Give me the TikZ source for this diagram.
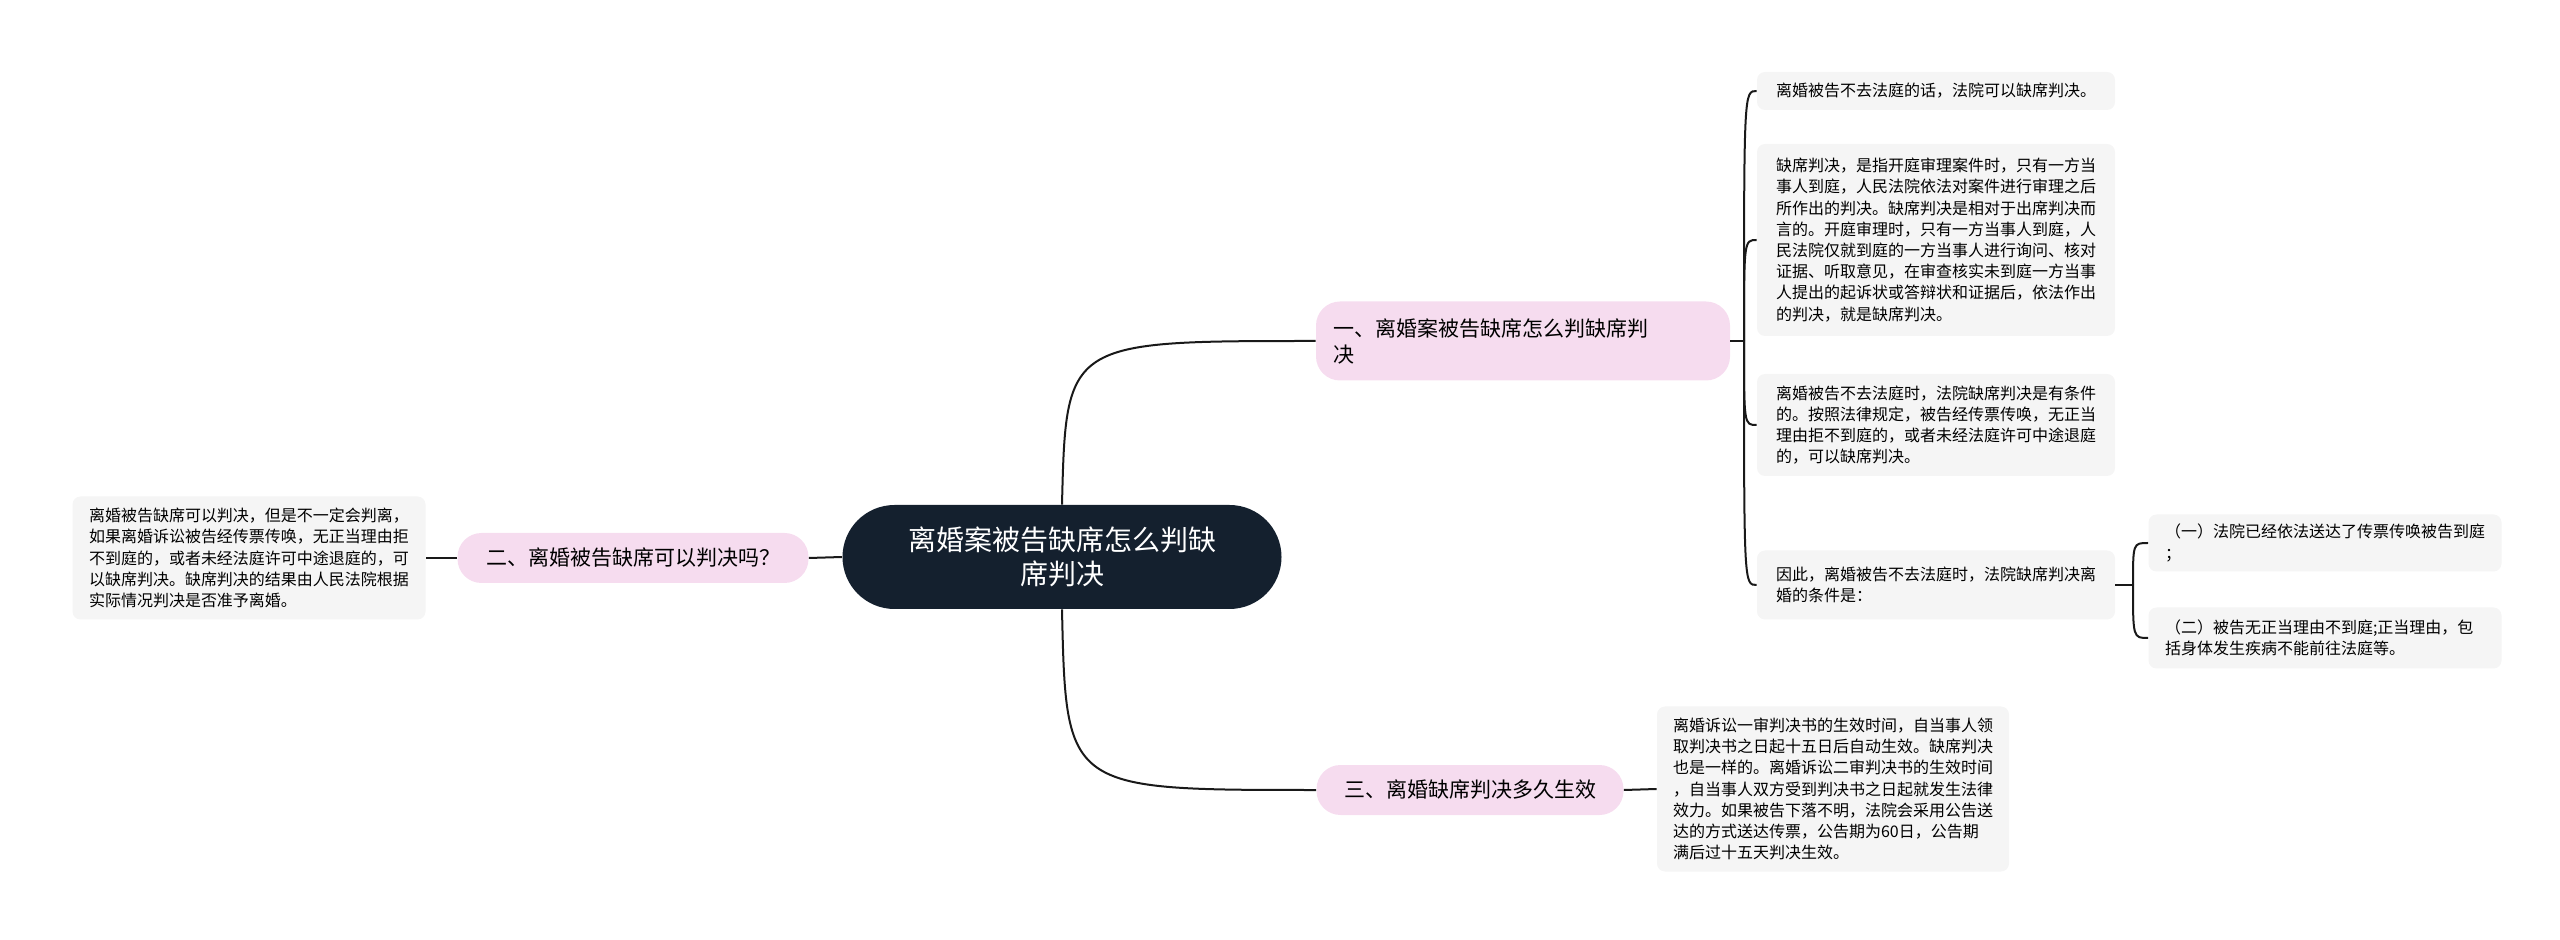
\documentclass[tikz,border=0pt]{standalone}
\usepackage{fontspec}
\setmainfont{Noto Sans CJK SC}
\tikzset{
  rootbox/.style={fill=black!10!blue!15!black!85, fill=rootcol, text=white, rounded corners=26pt, minimum width=219.5pt, minimum height=52pt, align=center, font=\fontsize{14pt}{17pt}\selectfont},
  topicbox/.style={fill=pinkcol, rounded corners=12pt, inner sep=0pt, align=left, font=\fontsize{10.5pt}{13pt}\selectfont},
  leafbox/.style={fill=leafcol, rounded corners=4pt, inner sep=0pt, align=left, text width=160pt, font=\fontsize{8pt}{10.6pt}\selectfont},
  link/.style={line width=1pt, black!90}
}
\definecolor{rootcol}{HTML}{14202E}
\definecolor{pinkcol}{HTML}{F6DCEF}
\definecolor{leafcol}{HTML}{F5F5F5}
\begin{document}
\begin{tikzpicture}[x=0.5pt, y=-0.5pt]
  \useasboundingbox (0,0) rectangle (2560,940);
  % centre
  \node[rootbox] (root) at (1062,557) {离婚案被告缺席怎么判缺\\席判决};
  % topics
  \node[topicbox, minimum width=207pt, minimum height=39.5pt, text width=190pt] (b1) at (1523,341) {一、离婚案被告缺席怎么判缺席判\\决};
  \node[topicbox, minimum width=175.5pt, minimum height=25pt, align=center] (b2) at (633,558) {二、离婚被告缺席可以判决吗？};
  \node[topicbox, minimum width=153.5pt, minimum height=25pt, align=center] (b3) at (1470,790) {三、离婚缺席判决多久生效};
  % leaves of topic one
  \node[leafbox, minimum width=179pt, minimum height=19pt] (l1) at (1936,91) {离婚被告不去法庭的话，法院可以缺席判决。};
  \node[leafbox, minimum width=179pt, minimum height=96pt] (l2) at (1936,240) {缺席判决，是指开庭审理案件时，只有一方当\\事人到庭，人民法院依法对案件进行审理之后\\所作出的判决。缺席判决是相对于出席判决而\\言的。开庭审理时，只有一方当事人到庭，人\\民法院仅就到庭的一方当事人进行询问、核对\\证据、听取意见，在审查核实未到庭一方当事\\人提出的起诉状或答辩状和证据后，依法作出\\的判决，就是缺席判决。};
  \node[leafbox, minimum width=179pt, minimum height=51pt] (l3) at (1936,425) {离婚被告不去法庭时，法院缺席判决是有条件\\的。按照法律规定，被告经传票传唤，无正当\\理由拒不到庭的，或者未经法庭许可中途退庭\\的，可以缺席判决。};
  \node[leafbox, minimum width=179pt, minimum height=34.5pt] (l4) at (1936,585) {因此，离婚被告不去法庭时，法院缺席判决离\\婚的条件是：};
  \node[leafbox, minimum width=176.5pt, minimum height=28.5pt] (s1) at (2325,543) {（一）法院已经依法送达了传票传唤被告到庭\\；};
  \node[leafbox, minimum width=176.5pt, minimum height=30.5pt] (s2) at (2325,638) {（二）被告无正当理由不到庭;正当理由，包\\括身体发生疾病不能前往法庭等。};
  % leaf of topic two
  \node[leafbox, minimum width=176.5pt, minimum height=61.5pt] (l5) at (249,558) {离婚被告缺席可以判决，但是不一定会判离，\\如果离婚诉讼被告经传票传唤，无正当理由拒\\不到庭的，或者未经法庭许可中途退庭的，可\\以缺席判决。缺席判决的结果由人民法院根据\\实际情况判决是否准予离婚。};
  % leaf of topic three
  \node[leafbox, minimum width=176pt, minimum height=82.5pt] (l6) at (1833,789) {离婚诉讼一审判决书的生效时间，自当事人领\\取判决书之日起十五日后自动生效。缺席判决\\也是一样的。离婚诉讼二审判决书的生效时间\\，自当事人双方受到判决书之日起就发生法律\\效力。如果被告下落不明，法院会采用公告送\\达的方式送达传票，公告期为60日，公告期\\满后过十五天判决生效。};
  % links
  \draw[link] (root.north) ++(0,0) .. controls (1066,341) .. (b1.west);
  \draw[link] (root.south) .. controls (1066,790) .. (b3.west);
  \draw[link] (root.west) -- (b2.east);
  \draw[link] (b2.west) -- (l5.east);
  \draw[link] (b3.east) -- (l6.west);
  \coordinate (k1) at (1744,341);
  \draw[link] (b1.east) -- (k1);
  \foreach \n in {l1,l2,l3,l4}
    \draw[link] (k1) .. controls (k1 |- \n.west) .. (\n.west);
  \coordinate (k2) at (2133,585);
  \draw[link] (l4.east) -- (k2);
  \foreach \n in {s1,s2}
    \draw[link] (k2) .. controls (k2 |- \n.west) .. (\n.west);
\end{tikzpicture}
\end{document}
